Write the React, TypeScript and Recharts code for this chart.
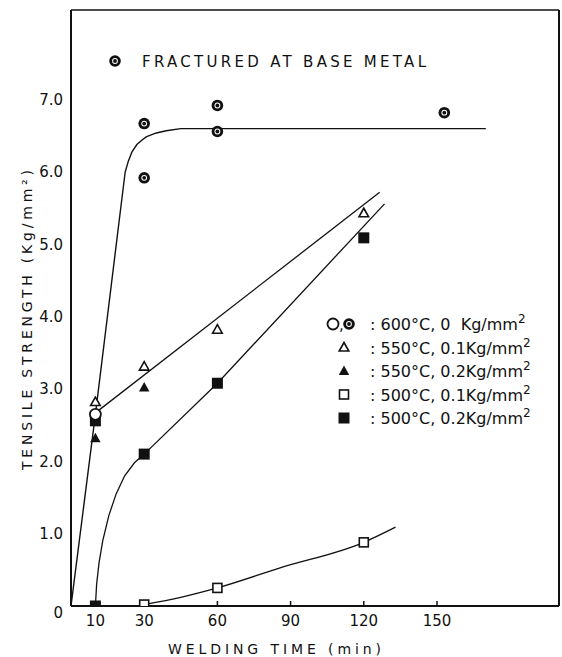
import { ComposedChart, XAxis, YAxis, Line, Scatter, ReferenceLine } from 'recharts';

const FONT = '"DejaVu Sans", sans-serif';
const INK = '#111';

// tick labels
const xTicks = [10, 30, 60, 90, 120, 150];
const yTicks = [0, 1, 2, 3, 4, 5, 6, 7];

// measured points (welding time min, tensile strength kg/mm2)
const open600 = [{ x: 10, y: 2.65 }];
const fractured600 = [
  { x: 30, y: 6.67 },
  { x: 30, y: 5.92 },
  { x: 60, y: 6.92 },
  { x: 60, y: 6.56 },
  { x: 153, y: 6.82 },
];
const tri550a = [
  { x: 10, y: 2.82 },
  { x: 30, y: 3.31 },
  { x: 60, y: 3.82 },
  { x: 120, y: 5.43 },
];
const tri550b = [
  { x: 10, y: 2.32 },
  { x: 30, y: 3.02 },
];
const sq500a = [
  { x: 30, y: 0.02 },
  { x: 60, y: 0.25 },
  { x: 120, y: 0.88 },
];
const sq500b = [
  { x: 10, y: 0 },
  { x: 30, y: 2.1 },
  { x: 60, y: 3.08 },
  { x: 120, y: 5.09 },
];
const filled10 = [{ x: 10, y: 2.56 }];

// hand-drawn fit curves
const fit600 = [
  { x: 0, y: 0 },
  { x: 10, y: 2.65 },
  { x: 22.2, y: 6.0 },
  { x: 23.5, y: 6.15 },
  { x: 25, y: 6.28 },
  { x: 27, y: 6.38 },
  { x: 29, y: 6.44 },
  { x: 31, y: 6.49 },
  { x: 35, y: 6.54 },
  { x: 39, y: 6.57 },
  { x: 45, y: 6.6 },
  { x: 170, y: 6.6 },
];
const fit550 = [
  { x: 10, y: 2.67 },
  { x: 126.5, y: 5.72 },
];
const fit500b = [
  { x: 10, y: 0 },
  { x: 10.5, y: 0.3 },
  { x: 11.5, y: 0.6 },
  { x: 13, y: 0.9 },
  { x: 15.5, y: 1.25 },
  { x: 18.5, y: 1.55 },
  { x: 22, y: 1.8 },
  { x: 26, y: 1.98 },
  { x: 30, y: 2.1 },
  { x: 60, y: 3.08 },
  { x: 128.5, y: 5.56 },
];
const fit500a = [
  { x: 30, y: 0.02 },
  { x: 45, y: 0.12 },
  { x: 60, y: 0.25 },
  { x: 86, y: 0.53 },
  { x: 120, y: 0.88 },
  { x: 133, y: 1.09 },
];

const X_MAX = 200;
const Y_MAX = 8.24;

type P = { cx?: number; cy?: number };

const OpenCircle = ({ cx = 0, cy = 0 }: P) => (
  <circle cx={cx} cy={cy} r={5.5} fill="#fff" stroke={INK} strokeWidth={1.8} />
);
const Bullseye = ({ cx = 0, cy = 0 }: P) => (
  <g>
    <circle cx={cx} cy={cy} r={5.8} fill={INK} />
    <circle cx={cx} cy={cy} r={2.9} fill="#fff" />
    <circle cx={cx} cy={cy} r={1.9} fill={INK} />
  </g>
);
const OpenTri = ({ cx = 0, cy = 0 }: P) => (
  <path d={`M${cx},${cy - 5} L${cx + 4.8},${cy + 3.5} L${cx - 4.8},${cy + 3.5}Z`} fill="#fff" stroke={INK} strokeWidth={1.6} />
);
const FilledTri = ({ cx = 0, cy = 0 }: P) => (
  <path d={`M${cx},${cy - 5.5} L${cx + 5.2},${cy + 4} L${cx - 5.2},${cy + 4}Z`} fill={INK} />
);
const OpenSq = ({ cx = 0, cy = 0 }: P) => (
  <rect x={cx - 4.5} y={cy - 4.5} width={9} height={9} fill="#fff" stroke={INK} strokeWidth={1.6} />
);
const FilledSq = ({ cx = 0, cy = 0 }: P) => (
  <rect x={cx - 5.5} y={cy - 5.5} width={11} height={11} fill={INK} />
);

const legendLabels = ['600°C, 0  Kg/mm', '550°C, 0.1Kg/mm', '550°C, 0.2Kg/mm', '500°C, 0.1Kg/mm', '500°C, 0.2Kg/mm'];
const legendSymbols = [null, OpenTri, FilledTri, OpenSq, FilledSq];

function LegendBox() {
  return (
    <svg width={230} height={125} style={{ position: 'absolute', left: 324, top: 312, overflow: 'visible' }}>
      {legendLabels.map((label, i) => {
        const cy = 12 + i * 23.5;
        const S = legendSymbols[i];
        return (
          <g key={label}>
            {S ? (
              <S cx={20} cy={cy} />
            ) : (
              <>
                <OpenCircle cx={9} cy={cy} />
                <text x={15} y={cy + 6} fontSize={15} fontFamily={FONT} fill={INK}>,</text>
                <Bullseye cx={25} cy={cy} />
              </>
            )}
            <text x={46} y={cy + 6} fontSize={16} fontFamily={FONT} fill={INK} style={{ whiteSpace: 'pre' }}>
              {': ' + label}
              <tspan dy={-7} fontSize={12}>2</tspan>
            </text>
          </g>
        );
      })}
    </svg>
  );
}

const YTick = ({ x, y, payload }: any) => (
  <text x={x} y={y + (payload.value === 0 ? 7 : 0)} dy="0.355em" textAnchor="end" fontSize={15} fontFamily={FONT} fill={INK}>
    {payload.value === 0 ? '0' : payload.value.toFixed(1)}
  </text>
);

export default function App() {
  return (
    <div style={{ position: 'absolute', left: 0, top: 0, width: 562, height: 657, background: '#fff' }}>
      <ComposedChart width={562} height={657} margin={{ top: 10, right: 3, bottom: 0, left: 0 }}>
        <XAxis
          dataKey="x"
          type="number"
          domain={[0, X_MAX]}
          ticks={xTicks}
          allowDataOverflow
          height={51}
          axisLine={{ stroke: INK, strokeWidth: 2 }}
          tickLine={{ stroke: INK, strokeWidth: 1.5 }}
          tickSize={-5}
          tickMargin={14}
          tick={{ fill: INK, fontSize: 15, fontFamily: FONT }}
          label={{
            value: 'WELDING TIME (min)',
            position: 'insideBottomLeft',
            content: ({ viewBox }: any) => (
              <text
                x={viewBox.x + 97}
                y={viewBox.y + 48}
                fontSize={14}
                fontFamily={FONT}
                fill={INK}
                textLength={213}
                lengthAdjust="spacing"
              >
                WELDING TIME (min)
              </text>
            ),
          }}
        />
        <YAxis
          type="number"
          domain={[0, Y_MAX]}
          ticks={yTicks}
          allowDataOverflow
          width={71}
          axisLine={{ stroke: INK, strokeWidth: 2 }}
          tickLine={false}
          tickSize={0}
          tickMargin={8}
          tick={<YTick />}
          label={{
            value: 'TENSILE STRENGTH (Kg/mm²)',
            position: 'insideLeft',
            content: ({ viewBox }: any) => {
              const cx = viewBox.x + 32;
              const cy = 320;
              return (
                <text
                  x={cx}
                  y={cy}
                  transform={`rotate(-90 ${cx} ${cy})`}
                  textAnchor="middle"
                  fontSize={14}
                  fontFamily={FONT}
                  fill={INK}
                  textLength={300}
                  lengthAdjust="spacing"
                >
                  TENSILE STRENGTH (Kg/mm²)
                </text>
              );
            },
          }}
        />
        <ReferenceLine y={Y_MAX} stroke={INK} strokeWidth={1.6} />
        <ReferenceLine x={X_MAX} stroke={INK} strokeWidth={2} />

        <Line data={fit600} dataKey="y" type="linear" stroke={INK} strokeWidth={1.4} dot={false} isAnimationActive={false} />
        <Line data={fit550} dataKey="y" type="linear" stroke={INK} strokeWidth={1.3} dot={false} isAnimationActive={false} />
        <Line data={fit500b} dataKey="y" type="linear" stroke={INK} strokeWidth={1.3} dot={false} isAnimationActive={false} />
        <Line data={fit500a} dataKey="y" type="monotone" stroke={INK} strokeWidth={1.3} dot={false} isAnimationActive={false} />

        <Scatter data={fractured600} dataKey="y" shape={Bullseye} isAnimationActive={false} />
        <Scatter data={tri550a} dataKey="y" shape={OpenTri} isAnimationActive={false} />
        <Scatter data={tri550b} dataKey="y" shape={FilledTri} isAnimationActive={false} />
        <Scatter data={sq500a} dataKey="y" shape={OpenSq} isAnimationActive={false} />
        <Scatter data={sq500b} dataKey="y" shape={FilledSq} isAnimationActive={false} />
        <Scatter data={filled10} dataKey="y" shape={FilledSq} isAnimationActive={false} />
        <Scatter data={open600} dataKey="y" shape={OpenCircle} isAnimationActive={false} />
      </ComposedChart>

      <LegendBox />

      <svg width={330} height={30} style={{ position: 'absolute', left: 100, top: 46 }}>
        <Bullseye cx={15} cy={15} />
        <text x={42} y={21} fontSize={15} fontFamily={FONT} fill={INK} textLength={284} lengthAdjust="spacing">
          FRACTURED AT BASE METAL
        </text>
      </svg>
    </div>
  );
}
